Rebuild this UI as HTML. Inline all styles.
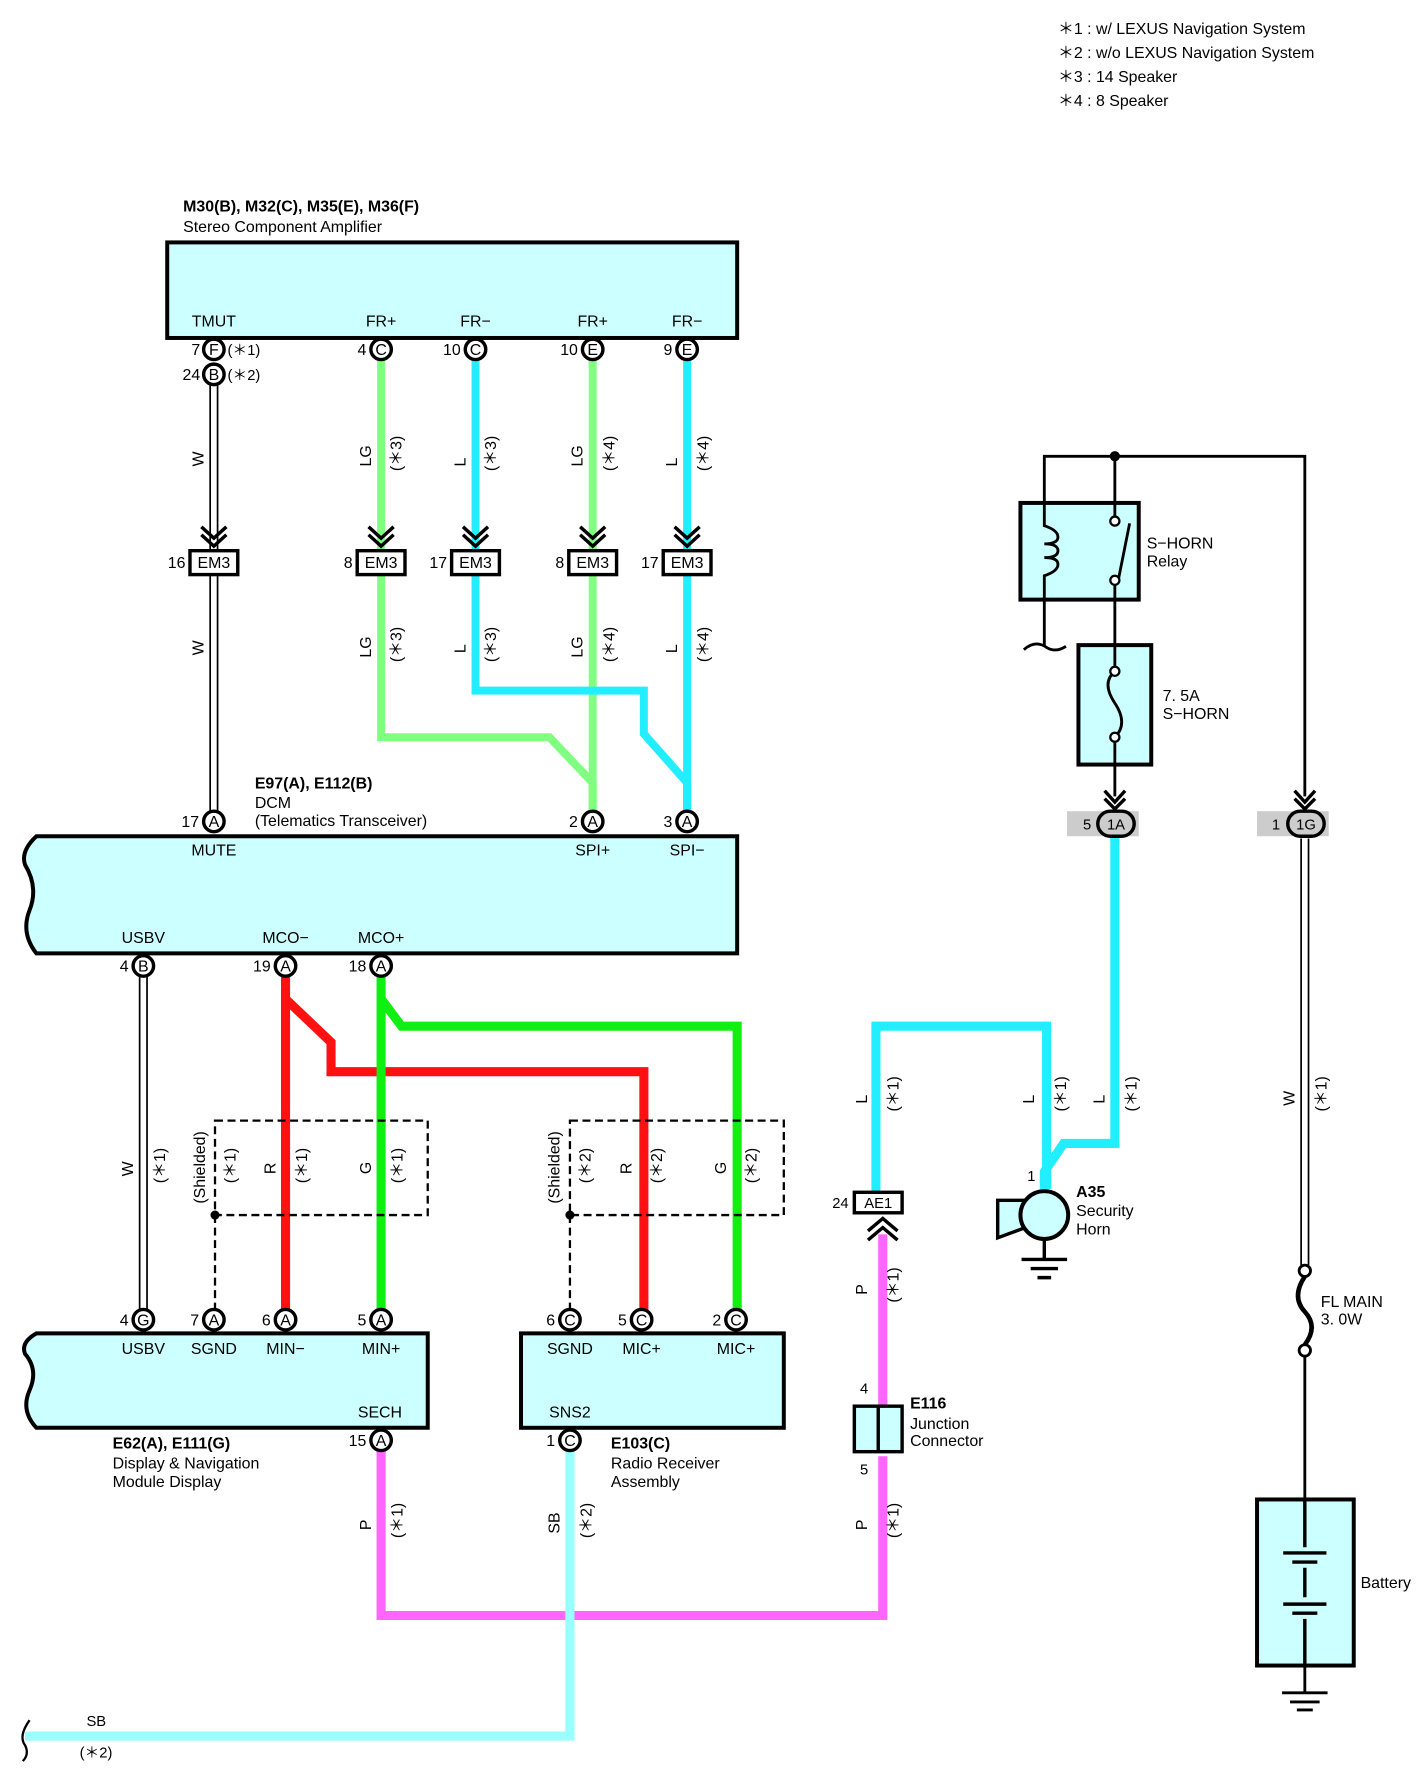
<!DOCTYPE html>
<html><head><meta charset="utf-8"><style>
html,body{margin:0;padding:0;background:#fff}
svg{display:block}
text{font-family:"Liberation Sans",sans-serif;font-size:14px;fill:#000}
.b{font-weight:bold}
.s{font-size:13px}
</style></head><body>
<svg width="1422" height="1776" viewBox="0 0 1250 1561" xmlns="http://www.w3.org/2000/svg">
<!-- legend -->
<text x="930" y="30">＊1 : w/ LEXUS Navigation System</text>
<text x="930" y="51">＊2 : w/o LEXUS Navigation System</text>
<text x="930" y="72">＊3 : 14 Speaker</text>
<text x="930" y="93">＊4 : 8 Speaker</text>

<!-- Amplifier -->
<text x="161" y="186" class="b">M30(B), M32(C), M35(E), M36(F)</text>
<text x="161" y="204">Stereo Component Amplifier</text>
<rect x="147" y="213" width="501" height="84" fill="#ccffff" stroke="#000" stroke-width="3.5"/>
<g text-anchor="middle">
<text x="188" y="287">TMUT</text><text x="335" y="287">FR+</text><text x="418" y="287">FR−</text><text x="521" y="287">FR+</text><text x="604" y="287">FR−</text>
</g>

<!-- top wires -->
<g fill="none" stroke-width="7">
<path d="M335 310V648H483L521 688V722" stroke="#80ff80"/>
<path d="M521 310V722" stroke="#80ff80"/>
<path d="M418 310V607H566V645L604 688V722" stroke="#22eeff"/>
<path d="M604 310V722" stroke="#22eeff"/>
</g>
<!-- W double wire -->
<path d="M188 335V722" stroke="#000" stroke-width="8"/><path d="M188 335V722" stroke="#fff" stroke-width="5"/>
<!-- arrows to EM3 -->
<g fill="none" stroke="#000" stroke-width="3">
<path d="M177 463l11 10 11-10M177 470l11 10 11-10"/>
<path d="M324 463l11 10 11-10M324 470l11 10 11-10"/>
<path d="M407 463l11 10 11-10M407 470l11 10 11-10"/>
<path d="M510 463l11 10 11-10M510 470l11 10 11-10"/>
<path d="M593 463l11 10 11-10M593 470l11 10 11-10"/>
</g>
<g fill="#fff" stroke="#000" stroke-width="3">
<rect x="167" y="484" width="42" height="21"/><rect x="314" y="484" width="42" height="21"/><rect x="397" y="484" width="42" height="21"/><rect x="500" y="484" width="42" height="21"/><rect x="583" y="484" width="42" height="21"/>
</g>
<g text-anchor="middle" class="s"><text x="188" y="499">EM3</text><text x="335" y="499">EM3</text><text x="418" y="499">EM3</text><text x="521" y="499">EM3</text><text x="604" y="499">EM3</text></g>
<g text-anchor="end" class="s"><text x="163" y="499">16</text><text x="310" y="499">8</text><text x="393" y="499">17</text><text x="496" y="499">8</text><text x="579" y="499">17</text></g>
<!-- amp pins -->
<g fill="#fff" stroke="#000" stroke-width="3">
<circle cx="188" cy="307" r="9"/><circle cx="188" cy="329" r="9"/><circle cx="335" cy="307" r="9"/><circle cx="418" cy="307" r="9"/><circle cx="521" cy="307" r="9"/><circle cx="604" cy="307" r="9"/>
</g>
<g text-anchor="middle" class="s"><text x="188" y="312">F</text><text x="188" y="334">B</text><text x="335" y="312">C</text><text x="418" y="312">C</text><text x="521" y="312">E</text><text x="604" y="312">E</text></g>
<g text-anchor="end" class="s"><text x="176" y="312">7</text><text x="176" y="334">24</text><text x="322" y="312">4</text><text x="405" y="312">10</text><text x="508" y="312">10</text><text x="591" y="312">9</text></g>
<text x="200" y="312" class="s">(＊1)</text><text x="200" y="334" class="s">(＊2)</text>
<!-- rotated wire labels -->
<g class="s">
<text transform="translate(179,410) rotate(-90)">W</text>
<text transform="translate(179,576) rotate(-90)">W</text>
<text transform="translate(326,410) rotate(-90)">LG</text><text transform="translate(353,414) rotate(-90)">(＊3)</text>
<text transform="translate(409,410) rotate(-90)">L</text><text transform="translate(436,414) rotate(-90)">(＊3)</text>
<text transform="translate(512,410) rotate(-90)">LG</text><text transform="translate(540,414) rotate(-90)">(＊4)</text>
<text transform="translate(595,410) rotate(-90)">L</text><text transform="translate(623,414) rotate(-90)">(＊4)</text>
<text transform="translate(326,578) rotate(-90)">LG</text><text transform="translate(353,582) rotate(-90)">(＊3)</text>
<text transform="translate(409,574) rotate(-90)">L</text><text transform="translate(436,582) rotate(-90)">(＊3)</text>
<text transform="translate(512,578) rotate(-90)">LG</text><text transform="translate(540,582) rotate(-90)">(＊4)</text>
<text transform="translate(595,574) rotate(-90)">L</text><text transform="translate(623,582) rotate(-90)">(＊4)</text>
</g>

<!-- DCM -->
<text x="224" y="693" class="b">E97(A), E112(B)</text>
<text x="224" y="710">DCM</text>
<text x="224" y="726">(Telematics Transceiver)</text>

<!-- lower wires -->
<path d="M126 855V1160" stroke="#000" stroke-width="8"/><path d="M126 855V1160" stroke="#fff" stroke-width="5"/>
<g fill="none" stroke-width="8">
<path d="M251 855V1160" stroke="#ff1111"/>
<path d="M251 878L291 916V942H566V1160" stroke="#ff1111"/>
<path d="M335 855V1160" stroke="#11ee11"/>
<path d="M335 878L353 902H648V1160" stroke="#11ee11"/>
<path d="M335 1272V1420H776V1280" stroke="#ff66ff"/>
<path d="M776 1235V1085" stroke="#ff66ff"/>
<path d="M501 1272V1526H22" stroke="#99ffff"/>
<path d="M770 1048V902H920V1045" stroke="#22eeff"/>
<path d="M980 735V1005H935L918 1030V1045" stroke="#22eeff"/>
</g>
<!-- shields -->
<g fill="none" stroke="#000" stroke-width="2" stroke-dasharray="7,4">
<rect x="189" y="985" width="187" height="83"/><path d="M189 1068V1150"/>
<rect x="501" y="985" width="188" height="83"/><path d="M501 1068V1150"/>
</g>
<circle cx="189" cy="1068" r="4"/><circle cx="501" cy="1068" r="4"/>
<g class="s">
<text transform="translate(117,1034) rotate(-90)">W</text><text transform="translate(145,1040) rotate(-90)">(＊1)</text>
<text transform="translate(180,1058) rotate(-90)">(Shielded)</text><text transform="translate(207,1040) rotate(-90)">(＊1)</text>
<text transform="translate(242,1032) rotate(-90)">R</text><text transform="translate(270,1040) rotate(-90)">(＊1)</text>
<text transform="translate(326,1032) rotate(-90)">G</text><text transform="translate(354,1040) rotate(-90)">(＊1)</text>
<text transform="translate(492,1058) rotate(-90)">(Shielded)</text><text transform="translate(519,1040) rotate(-90)">(＊2)</text>
<text transform="translate(555,1032) rotate(-90)">R</text><text transform="translate(582,1040) rotate(-90)">(＊2)</text>
<text transform="translate(638,1032) rotate(-90)">G</text><text transform="translate(665,1040) rotate(-90)">(＊2)</text>
<text transform="translate(326,1345) rotate(-90)">P</text><text transform="translate(354,1352) rotate(-90)">(＊1)</text>
<text transform="translate(492,1348) rotate(-90)">SB</text><text transform="translate(520,1352) rotate(-90)">(＊2)</text>
<text transform="translate(762,1345) rotate(-90)">P</text><text transform="translate(790,1352) rotate(-90)">(＊1)</text>
<text transform="translate(762,1138) rotate(-90)">P</text><text transform="translate(790,1145) rotate(-90)">(＊1)</text>
<text transform="translate(762,970) rotate(-90)">L</text><text transform="translate(790,977) rotate(-90)">(＊1)</text>
<text transform="translate(909,970) rotate(-90)">L</text><text transform="translate(937,977) rotate(-90)">(＊1)</text>
<text transform="translate(971,970) rotate(-90)">L</text><text transform="translate(999,977) rotate(-90)">(＊1)</text>
<text transform="translate(1138,972) rotate(-90)">W</text><text transform="translate(1166,977) rotate(-90)">(＊1)</text>
</g>

<!-- DCM box -->
<path d="M32 735H648V838H32Q18 820 26 800Q34 780 22 760Q18 748 32 735Z" fill="#ccffff" stroke="#000" stroke-width="3.5"/>
<g text-anchor="middle">
<text x="188" y="752">MUTE</text><text x="521" y="752">SPI+</text><text x="604" y="752">SPI−</text>
<text x="126" y="829">USBV</text><text x="251" y="829">MCO−</text><text x="335" y="829">MCO+</text>
</g>
<!-- Display box -->
<path d="M32 1172H376V1255H32Q18 1240 26 1222Q34 1204 22 1190Q18 1180 32 1172Z" fill="#ccffff" stroke="#000" stroke-width="3.5"/>
<g text-anchor="middle">
<text x="126" y="1190">USBV</text><text x="188" y="1190">SGND</text><text x="251" y="1190">MIN−</text><text x="335" y="1190">MIN+</text><text x="334" y="1246">SECH</text>
</g>
<text x="99" y="1273" class="b">E62(A), E111(G)</text>
<text x="99" y="1291">Display &amp; Navigation</text>
<text x="99" y="1307">Module Display</text>
<!-- Radio box -->
<rect x="458" y="1172" width="231" height="83" fill="#ccffff" stroke="#000" stroke-width="3.5"/>
<g text-anchor="middle">
<text x="501" y="1190">SGND</text><text x="564" y="1190">MIC+</text><text x="647" y="1190">MIC+</text><text x="501" y="1246">SNS2</text>
</g>
<text x="537" y="1273" class="b">E103(C)</text>
<text x="537" y="1291">Radio Receiver</text>
<text x="537" y="1307">Assembly</text>

<!-- pins lower -->
<g fill="#fff" stroke="#000" stroke-width="3">
<circle cx="188" cy="722" r="9"/><circle cx="521" cy="722" r="9"/><circle cx="604" cy="722" r="9"/>
<circle cx="126" cy="849" r="9"/><circle cx="251" cy="849" r="9"/><circle cx="335" cy="849" r="9"/>
<circle cx="126" cy="1160" r="9"/><circle cx="188" cy="1160" r="9"/><circle cx="251" cy="1160" r="9"/><circle cx="335" cy="1160" r="9"/>
<circle cx="501" cy="1160" r="9"/><circle cx="564" cy="1160" r="9"/><circle cx="647" cy="1160" r="9"/>
<circle cx="335" cy="1266" r="9"/><circle cx="501" cy="1266" r="9"/>
</g>
<g text-anchor="middle" class="s">
<text x="188" y="727">A</text><text x="521" y="727">A</text><text x="604" y="727">A</text>
<text x="126" y="854">B</text><text x="251" y="854">A</text><text x="335" y="854">A</text>
<text x="126" y="1165">G</text><text x="188" y="1165">A</text><text x="251" y="1165">A</text><text x="335" y="1165">A</text>
<text x="501" y="1165">C</text><text x="564" y="1165">C</text><text x="647" y="1165">C</text>
<text x="335" y="1271">A</text><text x="501" y="1271">C</text>
</g>
<g text-anchor="end" class="s">
<text x="175" y="727">17</text><text x="508" y="727">2</text><text x="591" y="727">3</text>
<text x="113" y="854">4</text><text x="238" y="854">19</text><text x="322" y="854">18</text>
<text x="113" y="1165">4</text><text x="175" y="1165">7</text><text x="238" y="1165">6</text><text x="322" y="1165">5</text>
<text x="488" y="1165">6</text><text x="551" y="1165">5</text><text x="634" y="1165">2</text>
<text x="322" y="1271">15</text><text x="488" y="1271">1</text>
</g>
<!-- SB end -->
<path d="M26 1512Q16 1526 22 1534Q26 1542 20 1548" fill="none" stroke="#000" stroke-width="2"/>
<text x="76" y="1517" class="s">SB</text><text x="70" y="1545" class="s">(＊2)</text>

<!-- AE1 / E116 -->
<rect x="751" y="1048" width="42" height="18" fill="#fff" stroke="#000" stroke-width="3"/>
<text x="772" y="1062" text-anchor="middle" class="s">AE1</text><text x="746" y="1062" text-anchor="end" class="s">24</text>
<path d="M763 1082l13-11 13 11M763 1090l13-11 13 11" fill="none" stroke="#000" stroke-width="3"/>
<rect x="751" y="1236" width="42" height="40" fill="#ccffff" stroke="#000" stroke-width="3"/>
<path d="M772 1236V1276" stroke="#000" stroke-width="3"/>
<text x="756" y="1225" class="s">4</text><text x="756" y="1296" class="s">5</text>
<text x="800" y="1238" class="b">E116</text><text x="800" y="1256">Junction</text><text x="800" y="1271">Connector</text>

<!-- Horn -->
<path d="M877 1055H904V1078L877 1088Z" fill="#ccffff" stroke="#000" stroke-width="3"/>
<circle cx="918" cy="1068" r="21" fill="#ccffff" stroke="#000" stroke-width="3.5"/>
<path d="M918 1089V1107M898 1107H938M906 1115H930M912 1123H924" stroke="#000" stroke-width="3"/>
<text x="903" y="1038" class="s">1</text>
<text x="946" y="1052" class="b">A35</text><text x="946" y="1069">Security</text><text x="946" y="1085">Horn</text>

<!-- Relay / fuse -->
<path d="M918 442V401H1147V700M980 401V442M918 527V568M980 527V567M980 672V700" fill="none" stroke="#000" stroke-width="2.5"/>
<circle cx="980" cy="401" r="4.5"/>
<rect x="897" y="442" width="104" height="85" fill="#ccffff" stroke="#000" stroke-width="3.5"/>
<path d="M918 442V462Q930 466 930 472Q930 478 918 478Q930 478 930 484Q930 490 918 490Q930 490 930 496Q930 502 918 506V527" fill="none" stroke="#000" stroke-width="2.5"/>
<path d="M980 442V458M980 510V527M983 510L993 460" fill="none" stroke="#000" stroke-width="2.5"/>
<circle cx="980" cy="458" r="4" fill="#fff" stroke="#000" stroke-width="2"/><circle cx="980" cy="510" r="4" fill="#fff" stroke="#000" stroke-width="2"/>
<path d="M900 571Q910 562 920 569Q928 574 937 568" fill="none" stroke="#000" stroke-width="2.5"/>
<text x="1008" y="482">S−HORN</text><text x="1008" y="498">Relay</text>
<rect x="948" y="567" width="64" height="105" fill="#ccffff" stroke="#000" stroke-width="3.5"/>
<path d="M980 567V590Q968 600 980 618Q992 636 980 648V672" fill="none" stroke="#000" stroke-width="2.5"/>
<circle cx="980" cy="590" r="4" fill="#fff" stroke="#000" stroke-width="2"/><circle cx="980" cy="648" r="4" fill="#fff" stroke="#000" stroke-width="2"/>
<text x="1022" y="616">7. 5A</text><text x="1022" y="632">S−HORN</text>
<path d="M971 695l9 10 9-10M971 702l9 9 9-9" fill="none" stroke="#000" stroke-width="3"/>
<path d="M1138 695l9 10 9-10M1138 702l9 9 9-9" fill="none" stroke="#000" stroke-width="3"/>
<rect x="938" y="713" width="63" height="22" fill="#cccccc"/>
<rect x="1105" y="713" width="63" height="22" fill="#cccccc"/>
<rect x="965" y="713" width="32" height="22" rx="11" fill="#ccc" stroke="#000" stroke-width="3"/>
<rect x="1132" y="713" width="32" height="22" rx="11" fill="#ccc" stroke="#000" stroke-width="3"/>
<text x="981" y="729" text-anchor="middle" class="s">1A</text><text x="1148" y="729" text-anchor="middle" class="s">1G</text>
<text x="952" y="729" class="s">5</text><text x="1118" y="729" class="s">1</text>

<!-- W to fusible link -->
<path d="M1147 737V1112" stroke="#000" stroke-width="8"/><path d="M1147 737V1112" stroke="#fff" stroke-width="5"/>
<circle cx="1147" cy="1117" r="5" fill="#fff" stroke="#000" stroke-width="2.5"/>
<path d="M1147 1122Q1135 1140 1147 1153Q1159 1166 1147 1182" fill="none" stroke="#000" stroke-width="4"/>
<circle cx="1147" cy="1187" r="5" fill="#fff" stroke="#000" stroke-width="2.5"/>
<path d="M1147 1192V1318" stroke="#000" stroke-width="2.5"/>
<text x="1161" y="1149">FL MAIN</text><text x="1161" y="1164">3. 0W</text>
<!-- battery -->
<rect x="1105" y="1318" width="85" height="146" fill="#ccffff" stroke="#000" stroke-width="3.5"/>
<path d="M1147 1318V1360M1128 1365H1166M1136 1373H1158M1147 1378V1404M1128 1410H1166M1136 1418H1158M1147 1423V1464" fill="none" stroke="#000" stroke-width="3"/>
<path d="M1147 1464V1488M1127 1488H1167M1134 1496H1160M1140 1503H1154" stroke="#000" stroke-width="2.5"/>
<text x="1196" y="1396">Battery</text>
</svg>
</body></html>
